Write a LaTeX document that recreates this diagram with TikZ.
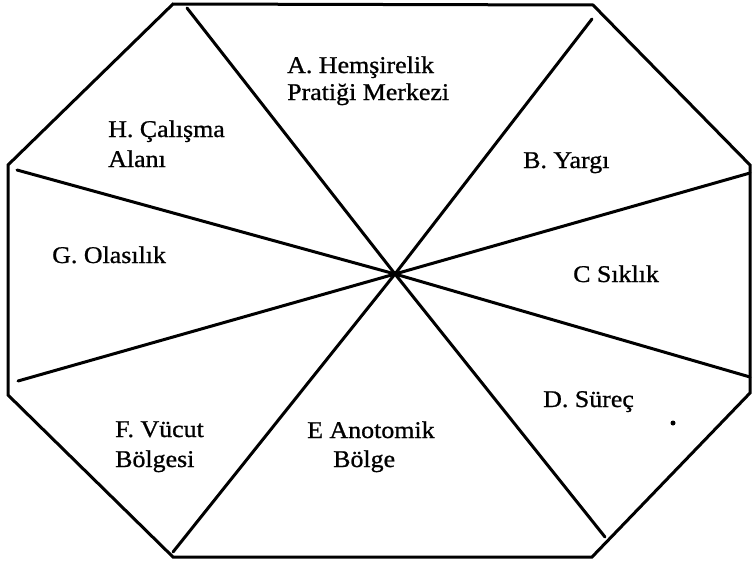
\documentclass[tikz,border=0pt]{standalone}
\usepackage{fontspec}
\setmainfont[FakeStretch=1.08,FakeBold=0.9]{Liberation Serif}
\tikzset{
  edge/.style={line width=3pt, line join=miter, line cap=round, black},
  lbl/.style={anchor=base west, inner sep=0pt, font=\fontsize{24}{27}\selectfont}
}
\begin{document}
\begin{tikzpicture}[x=1pt,y=-1pt]
\useasboundingbox (0,0) rectangle (752,562);
% octagon vertices
\coordinate (v1) at (173,4);
\coordinate (v2) at (593,5);
\coordinate (v3) at (750,165);
\coordinate (v4) at (750,393);
\coordinate (v5) at (592,557);
\coordinate (v6) at (173,557);
\coordinate (v7) at (8,395);
\coordinate (v8) at (8,165);
\coordinate (c) at (395,274);
% divider ends
\coordinate (d1) at (187,8);
\coordinate (d2) at (592,19);
\coordinate (d3) at (750,173);
\coordinate (d4) at (750,377);
\coordinate (d5) at (605,537);
\coordinate (d6) at (173,552);
\coordinate (d7) at (18,381);
\coordinate (d8) at (17,170);
\draw[edge] (v1) -- (v2) -- (v3) -- (v4) -- (v5) -- (v6) -- (v7) -- (v8) -- cycle;
\foreach \d in {d1,d2,d3,d4,d5,d6,d7,d8}
  \draw[edge] (c) -- (\d);
% labels
\node[lbl] (a1) at (287,73) {A. Hemşirelik};
\node[lbl] (a2) at (287,100) {Pratiği Merkezi};
\node[lbl] (b) at (523,168) {B. Yargı};
\node[lbl] (cc) at (573,282) {C Sıklık};
\node[lbl] (dd) at (543,407) {D. Süreç};
\node[lbl] (e1) at (307,438) {E Anotomik};
\node[lbl] (e2) at (333,467) {Bölge};
\node[lbl] (f1) at (115,437) {F. Vücut};
\node[lbl] (f2) at (115,467) {Bölgesi};
\node[lbl] (g) at (52,263) {G. Olasılık};
\node[lbl] (h1) at (108,137) {H. Çalışma};
\node[lbl] (h2) at (108,167) {Alanı};
\fill (673,423) circle (2.5pt);
\end{tikzpicture}
\end{document}
